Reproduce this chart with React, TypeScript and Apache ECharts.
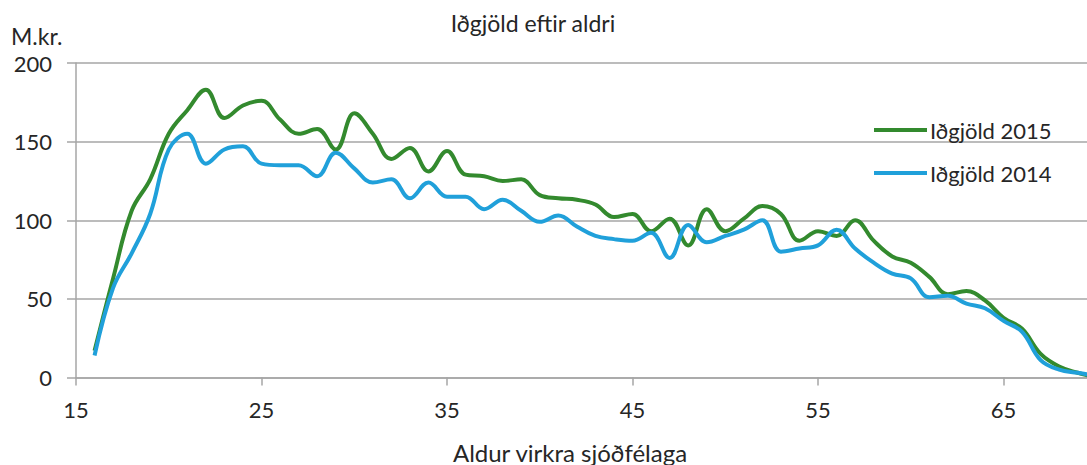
import React, { useEffect, useRef } from "react";
import * as echarts from "echarts";

const ages: number[] = [
  16, 17, 18, 19, 20, 21, 22, 23, 24, 25, 26, 27, 28, 29, 30, 31, 32, 33, 34, 35,
  36, 37, 38, 39, 40, 41, 42, 43, 44, 45, 46, 47, 48, 49, 50, 51, 52, 53, 54, 55,
  56, 57, 58, 59, 60, 61, 62, 63, 64, 65, 66, 67, 68, 69, 70,
];

const premiums2015: number[] = [
  17, 63, 106, 126, 155, 170, 183, 165, 173, 176, 164, 155, 158, 145, 168, 155, 139, 146, 131, 144,
  129, 128, 125, 126, 116, 114, 113, 110, 102, 104, 93, 101, 84, 107, 93, 101, 109, 104, 87, 93,
  90, 100, 87, 77, 73, 64, 53, 55, 49, 38, 31, 15, 7, 3, 0,
];

const premiums2014: number[] = [
  14, 57, 79, 104, 145, 155, 136, 145, 147, 136, 135, 135, 128, 143, 133, 124, 126, 114, 124, 115,
  115, 107, 113, 106, 99, 103, 96, 90, 88, 87, 92, 76, 97, 86, 90, 94, 100, 80, 82, 84,
  94, 82, 73, 66, 63, 51, 52, 47, 44, 36, 29, 11, 5, 3, 1,
];

const seriesNames: string[] = ["Iðgjöld 2015", "Iðgjöld 2014"];
const titleText = "Iðgjöld eftir aldri";
const yUnit = "M.kr.";
const xTitle = "Aldur virkra sjóðfélaga";

const FONT = "Lato, 'Open Sans', sans-serif";
const TEXT = "#262626";
const GRID = "#a6a6a6";

export default function App() {
  const ref = useRef<HTMLDivElement>(null);

  useEffect(() => {
    document.body.style.margin = "0";
    if (!ref.current) return;
    const chart = echarts.init(ref.current, undefined, { renderer: "svg" });
    const option: any = {
      animation: false,
      backgroundColor: "#ffffff",
      textStyle: { fontFamily: FONT, color: TEXT },
      grid: { left: 76, right: 0, top: 63, bottom: 87.5, containLabel: false },
      xAxis: {
        type: "value",
        min: 15,
        max: 69.5,
        interval: 10,
        axisLine: { show: true, lineStyle: { color: GRID, width: 1.5 } },
        axisTick: { show: true, length: 8, lineStyle: { color: GRID, width: 1.5 } },
        splitLine: { show: false },
        axisLabel: {
          fontFamily: FONT,
          fontSize: 22,
          color: TEXT,
          margin: 21,
          showMaxLabel: false,
        },
      },
      yAxis: {
        type: "value",
        min: 0,
        max: 200,
        interval: 50,
        axisLine: { show: true, lineStyle: { color: GRID, width: 1.5 } },
        axisTick: { show: true, length: 9, lineStyle: { color: GRID, width: 1.5 } },
        splitLine: { show: true, lineStyle: { color: GRID, width: 1.5 } },
        axisLabel: { fontFamily: FONT, fontSize: 22, color: TEXT, margin: 24 },
      },
      legend: {
        orient: "vertical",
        left: 874,
        top: 117,
        padding: 0,
        itemWidth: 53,
        itemHeight: 4,
        itemGap: 17,
        icon: "rect",
        textStyle: { fontFamily: FONT, fontSize: 22, color: TEXT, lineHeight: 26, padding: [0, 0, 0, -2] },
        data: seriesNames,
      },
      graphic: [
        {
          type: "text",
          x: 533,
          y: 23,
          style: {
            text: titleText,
            fontFamily: FONT,
            fontSize: 23,
            fill: TEXT,
            textAlign: "center",
            textVerticalAlign: "middle",
          },
        },
        {
          type: "text",
          x: 11,
          y: 36,
          style: {
            text: yUnit,
            fontFamily: FONT,
            fontSize: 23,
            fill: TEXT,
            textAlign: "left",
            textVerticalAlign: "middle",
          },
        },
        {
          type: "text",
          x: 570,
          y: 452,
          style: {
            text: xTitle,
            fontFamily: FONT,
            fontSize: 24,
            fill: TEXT,
            textAlign: "center",
            textVerticalAlign: "middle",
          },
        },
      ],
      series: [
        {
          name: seriesNames[0],
          type: "line",
          data: ages.map((a, i) => [a, premiums2015[i]]),
          smooth: 0.4,
          symbol: "none",
          lineStyle: { color: "#338a2e", width: 4 },
          itemStyle: { color: "#338a2e" },
        },
        {
          name: seriesNames[1],
          type: "line",
          data: ages.map((a, i) => [a, premiums2014[i]]),
          smooth: 0.4,
          symbol: "none",
          lineStyle: { color: "#20a0da", width: 4 },
          itemStyle: { color: "#20a0da" },
        },
      ],
    };
    chart.setOption(option);
    return () => chart.dispose();
  }, []);

  return <div ref={ref} style={{ width: 1087, height: 465 }} />;
}
